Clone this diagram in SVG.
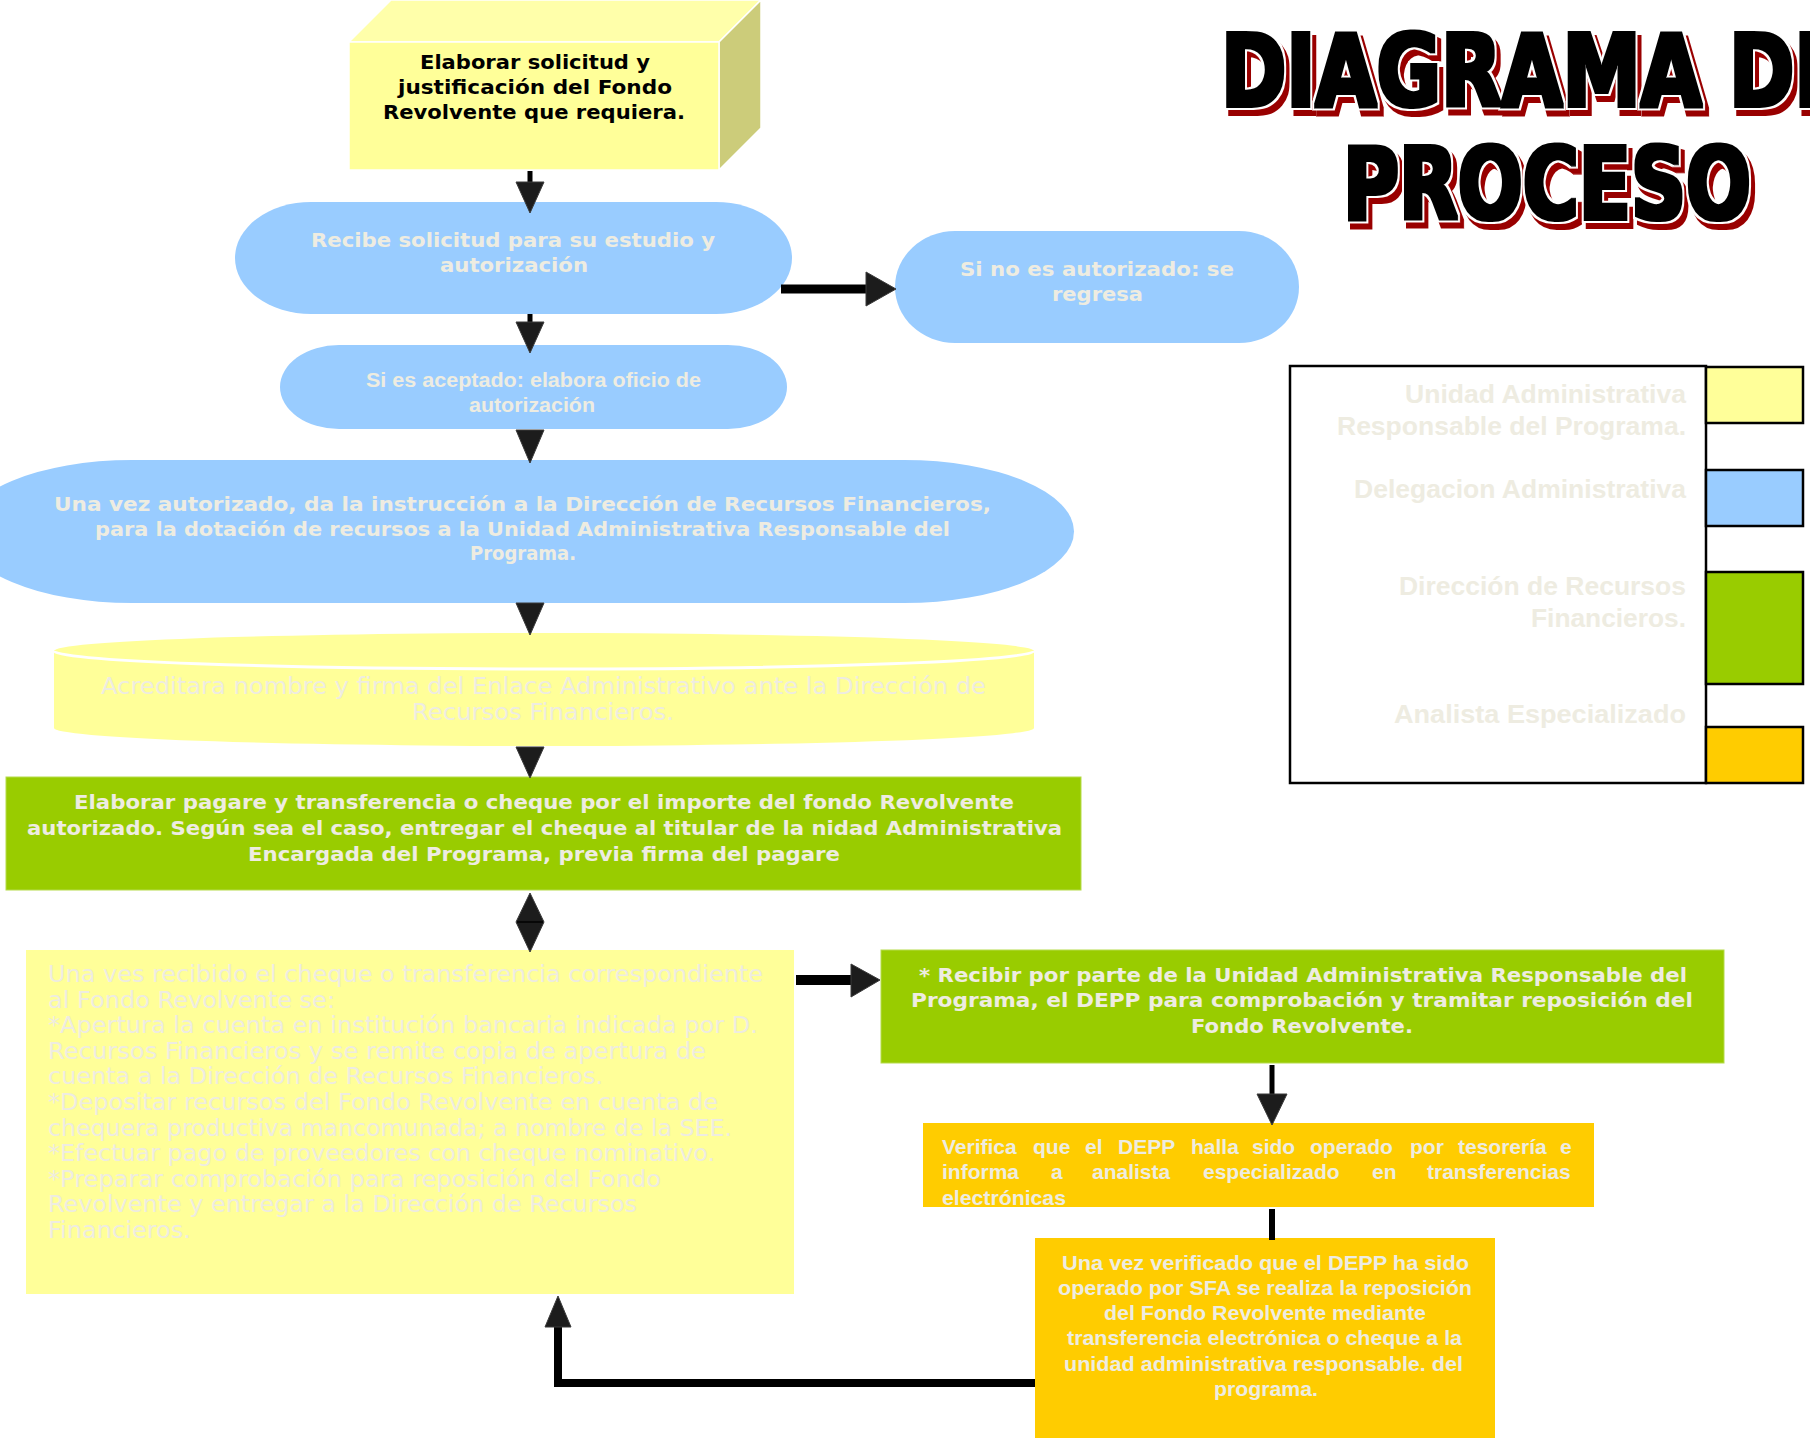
<svg xmlns="http://www.w3.org/2000/svg" width="1810" height="1438" viewBox="0 0 1810 1438">
<style>
.v{font-family:'DejaVu Sans',Verdana,sans-serif}
.a{font-family:'Liberation Sans',Arial,sans-serif}
.b{font-weight:bold}
.lt{fill:#EEECE1}
.yel{fill:#FFFF99}
.blue{fill:#99CCFF}
.green{fill:#99CC00}
.orange{fill:#FFCC00}
.head{fill:#1C1C1C;stroke:#3A3A3A;stroke-width:1}
.shaft{stroke:#000;fill:none}
.title{font-family:'DejaVu Sans Condensed','Liberation Sans Narrow','Liberation Sans',sans-serif;font-weight:bold;font-size:99px;fill:#000}
</style>
<defs>
<filter id="titlefx" x="-5%" y="-20%" width="115%" height="150%" color-interpolation-filters="sRGB">
<feMorphology in="SourceAlpha" operator="dilate" radius="1.8" result="thick"/>
<feMorphology in="SourceAlpha" operator="dilate" radius="4.2" result="outer"/>
<feOffset in="outer" dx="4" dy="6" result="outerOff"/>
<feFlood flood-color="#990000" result="red"/>
<feComposite in="red" in2="outerOff" operator="in" result="shadow"/>
<feFlood flood-color="#ffffff" result="white"/>
<feComposite in="white" in2="outer" operator="in" result="outline"/>
<feFlood flood-color="#000000" result="black"/>
<feComposite in="black" in2="thick" operator="in" result="body"/>
<feMerge><feMergeNode in="shadow"/><feMergeNode in="outline"/><feMergeNode in="body"/></feMerge>
</filter>
</defs>
<rect width="1810" height="1438" fill="#fff"/>

<g id="title">
<text class="title" filter="url(#titlefx)" x="1221" y="106" textLength="627" lengthAdjust="spacingAndGlyphs">DIAGRAMA DE</text>
<text class="title" filter="url(#titlefx)" x="1343" y="219" textLength="408" lengthAdjust="spacingAndGlyphs">PROCESO</text>
</g>

<g id="n1">
<polygon points="349,42 391,0 761,0 719,42" fill="#FFFFAA" stroke="#fff" stroke-width="1.5"/>
<polygon points="719,42 761,0 761,128 719,170" fill="#CCCC7A" stroke="#fff" stroke-width="1.5"/>
<rect x="349" y="42" width="370" height="128" class="yel" stroke="#fff" stroke-width="1.5"/>
<text class="v b" font-size="20" fill="#000">
<tspan x="420" y="69" textLength="230" lengthAdjust="spacingAndGlyphs">Elaborar solicitud y</tspan>
<tspan x="398" y="94" textLength="274" lengthAdjust="spacingAndGlyphs">justificación del Fondo</tspan>
<tspan x="383" y="119" textLength="302" lengthAdjust="spacingAndGlyphs">Revolvente que requiera.</tspan>
</text>
</g>

<g id="n2">
<rect x="235" y="202" width="557" height="112" rx="76" ry="56" class="blue"/>
<text class="v b lt" font-size="19">
<tspan x="311" y="247" textLength="404" lengthAdjust="spacingAndGlyphs">Recibe solicitud para su estudio y</tspan>
<tspan x="440" y="272" textLength="148" lengthAdjust="spacingAndGlyphs">autorización</tspan>
</text>
</g>

<g id="n3">
<rect x="895" y="231" width="404" height="112" rx="60" ry="56" class="blue"/>
<text class="v b lt" font-size="19">
<tspan x="960" y="276" textLength="274" lengthAdjust="spacingAndGlyphs">Si no es autorizado: se</tspan>
<tspan x="1052" y="301" textLength="91" lengthAdjust="spacingAndGlyphs">regresa</tspan>
</text>
</g>

<g id="n4">
<rect x="280" y="345" width="507" height="84" rx="59" ry="42" class="blue"/>
<text class="a b lt" font-size="20">
<tspan x="366" y="387" textLength="335" lengthAdjust="spacingAndGlyphs">Si es aceptado: elabora oficio de</tspan>
<tspan x="469" y="412" textLength="126" lengthAdjust="spacingAndGlyphs">autorización</tspan>
</text>
</g>

<g id="n5">
<rect x="-38" y="460" width="1112" height="143" rx="170" ry="71.5" class="blue"/>
<text class="v b lt" font-size="19">
<tspan x="54" y="511" textLength="937" lengthAdjust="spacingAndGlyphs">Una vez autorizado,  da la instrucción  a la Dirección de Recursos Financieros,</tspan>
<tspan x="95" y="536" textLength="855" lengthAdjust="spacingAndGlyphs">para la dotación de recursos  a la Unidad Administrativa Responsable del</tspan>
<tspan x="470" y="560" textLength="106" lengthAdjust="spacingAndGlyphs">Programa.</tspan>
</text>
</g>

<g id="n6">
<path d="M54,651 A490,18 0 0 1 1034,651 L1034,728 A490,18 0 0 1 54,728 Z" class="yel"/>
<path d="M54,651 A490,18 0 0 0 1034,651" fill="none" stroke="#fff" stroke-width="3"/>
<text class="v lt" font-size="23">
<tspan x="101" y="694" textLength="885" lengthAdjust="spacingAndGlyphs">Acreditara nombre y firma del  Enlace Administrativo ante la Dirección de</tspan>
<tspan x="412" y="720" textLength="262" lengthAdjust="spacingAndGlyphs">Recursos Financieros.</tspan>
</text>
</g>

<g id="n7">
<rect x="6" y="777" width="1075" height="113" class="green" stroke="#B5DB4A" stroke-width="1"/>
<text class="v b lt" font-size="20">
<tspan x="74" y="809" textLength="940" lengthAdjust="spacingAndGlyphs">Elaborar pagare y transferencia o cheque por el importe del fondo Revolvente</tspan>
<tspan x="27" y="835" textLength="1035" lengthAdjust="spacingAndGlyphs">autorizado. Según sea el caso, entregar el cheque al titular de la nidad Administrativa</tspan>
<tspan x="248" y="861" textLength="592" lengthAdjust="spacingAndGlyphs">Encargada del Programa, previa firma del pagare</tspan>
</text>
</g>

<g id="n8">
<rect x="26" y="950" width="768" height="344" class="yel"/>
<text class="v lt" font-size="23">
<tspan x="48" y="982" textLength="715" lengthAdjust="spacingAndGlyphs">Una ves recibido el cheque o transferencia correspondiente</tspan>
<tspan x="48" y="1008" textLength="287" lengthAdjust="spacingAndGlyphs">al Fondo Revolvente se:</tspan>
<tspan x="48" y="1033" textLength="710" lengthAdjust="spacingAndGlyphs">*Apertura la cuenta en institución bancaria indicada por D.</tspan>
<tspan x="48" y="1059" textLength="658" lengthAdjust="spacingAndGlyphs">Recursos Financieros y  se remite copia de apertura de</tspan>
<tspan x="48" y="1084" textLength="555" lengthAdjust="spacingAndGlyphs">cuenta a la Dirección de Recursos Financieros.</tspan>
<tspan x="48" y="1110" textLength="670" lengthAdjust="spacingAndGlyphs">*Depositar recursos del Fondo Revolvente en cuenta de</tspan>
<tspan x="48" y="1136" textLength="684" lengthAdjust="spacingAndGlyphs">chequera productiva mancomunada; a nombre de la SEE.</tspan>
<tspan x="48" y="1161" textLength="667" lengthAdjust="spacingAndGlyphs">*Efectuar pago de proveedores con cheque nominativo.</tspan>
<tspan x="48" y="1187" textLength="613" lengthAdjust="spacingAndGlyphs">*Preparar comprobación para reposición del Fondo</tspan>
<tspan x="48" y="1212" textLength="589" lengthAdjust="spacingAndGlyphs">Revolvente y entregar a la Dirección de Recursos</tspan>
<tspan x="48" y="1238" textLength="143" lengthAdjust="spacingAndGlyphs">Financieros.</tspan>
</text>
</g>

<g id="n9">
<rect x="881" y="950" width="843" height="113" class="green" stroke="#B5DB4A" stroke-width="1"/>
<text class="v b lt" font-size="20">
<tspan x="919" y="982" textLength="768" lengthAdjust="spacingAndGlyphs">* Recibir por parte de la Unidad Administrativa Responsable del</tspan>
<tspan x="911" y="1007" textLength="782" lengthAdjust="spacingAndGlyphs">Programa,  el DEPP para comprobación y tramitar reposición  del</tspan>
<tspan x="1191" y="1033" textLength="222" lengthAdjust="spacingAndGlyphs">Fondo Revolvente.</tspan>
</text>
</g>

<g id="n10">
<rect x="923" y="1123" width="671" height="84" class="orange"/>
<text class="a b lt" font-size="21">
<tspan x="942" y="1154">Verifica</tspan> <tspan x="1033" y="1154">que</tspan> <tspan x="1085" y="1154">el</tspan> <tspan x="1118" y="1154">DEPP</tspan> <tspan x="1191" y="1154">halla</tspan> <tspan x="1252" y="1154">sido</tspan> <tspan x="1310" y="1154">operado</tspan> <tspan x="1410" y="1154">por</tspan> <tspan x="1458" y="1154">tesorería</tspan> <tspan x="1560" y="1154">e</tspan>
<tspan x="942" y="1179">informa</tspan> <tspan x="1051" y="1179">a</tspan> <tspan x="1092" y="1179">analista</tspan> <tspan x="1203" y="1179">especializado</tspan> <tspan x="1372" y="1179">en</tspan> <tspan x="1427" y="1179">transferencias</tspan>
<tspan x="942" y="1205" textLength="124" lengthAdjust="spacingAndGlyphs">electrónicas</tspan>
</text>
</g>

<g id="n11">
<rect x="1035" y="1238" width="460" height="210" class="orange"/>
<text class="a b lt" font-size="21">
<tspan x="1062" y="1270" textLength="407" lengthAdjust="spacingAndGlyphs">Una vez verificado que el  DEPP ha sido</tspan>
<tspan x="1058" y="1295" textLength="414" lengthAdjust="spacingAndGlyphs">operado por SFA se realiza la reposición</tspan>
<tspan x="1104" y="1320" textLength="322" lengthAdjust="spacingAndGlyphs">del Fondo Revolvente mediante</tspan>
<tspan x="1067" y="1345" textLength="395" lengthAdjust="spacingAndGlyphs">transferencia electrónica o cheque a la</tspan>
<tspan x="1064" y="1371" textLength="399" lengthAdjust="spacingAndGlyphs">unidad administrativa responsable. del</tspan>
<tspan x="1214" y="1396" textLength="104" lengthAdjust="spacingAndGlyphs">programa.</tspan>
</text>
</g>

<g id="legend">
<rect x="1290" y="366" width="416" height="417" fill="#fff" stroke="#000" stroke-width="2.5"/>
<rect x="1706" y="367" width="97" height="56" class="yel" stroke="#000" stroke-width="2.5"/>
<rect x="1706" y="470" width="97" height="56" class="blue" stroke="#000" stroke-width="2.5"/>
<rect x="1706" y="572" width="97" height="112" class="green" stroke="#000" stroke-width="2.5"/>
<rect x="1706" y="727" width="97" height="56" class="orange" stroke="#000" stroke-width="2.5"/>
<text class="a b lt" font-size="26">
<tspan x="1405" y="403" textLength="281" lengthAdjust="spacingAndGlyphs">Unidad Administrativa</tspan>
<tspan x="1337" y="435" textLength="349" lengthAdjust="spacingAndGlyphs">Responsable del Programa.</tspan>
<tspan x="1354" y="498" textLength="332" lengthAdjust="spacingAndGlyphs">Delegacion Administrativa</tspan>
<tspan x="1399" y="595" textLength="287" lengthAdjust="spacingAndGlyphs">Dirección de Recursos</tspan>
<tspan x="1531" y="627" textLength="155" lengthAdjust="spacingAndGlyphs">Financieros.</tspan>
<tspan x="1394" y="723" textLength="292" lengthAdjust="spacingAndGlyphs">Analista  Especializado</tspan>
</text>
</g>

<g id="connectors">
<line x1="530" y1="171" x2="530" y2="186" class="shaft" stroke-width="5"/>
<polygon points="516,182 544,182 530,213" class="head"/>
<line x1="530" y1="314" x2="530" y2="326" class="shaft" stroke-width="5"/>
<polygon points="516,322 544,322 530,353" class="head"/>
<polygon points="516,430 544,430 530,463" class="head"/>
<polygon points="516,603 544,603 530,635" class="head"/>
<polygon points="516,747 544,747 530,778" class="head"/>
<polygon points="530,893 544,922 530,952 516,922" class="head"/>
<line x1="517" y1="922" x2="543" y2="922" stroke="#000" stroke-width="1.5"/>
<line x1="781" y1="289" x2="868" y2="289" class="shaft" stroke-width="9"/>
<polygon points="866,272 896,289 866,306" class="head"/>
<line x1="796" y1="980" x2="853" y2="980" class="shaft" stroke-width="10"/>
<polygon points="851,964 880,980 851,997" class="head"/>
<line x1="1272" y1="1065" x2="1272" y2="1097" class="shaft" stroke-width="5"/>
<polygon points="1257,1094 1287,1094 1272,1125" class="head"/>
<line x1="1272" y1="1209" x2="1272" y2="1240" class="shaft" stroke-width="6"/>
<polyline points="1035,1383 558,1383 558,1324" class="shaft" stroke-width="8"/>
<polygon points="545,1327 571,1327 558,1296" class="head"/>
</g>
</svg>
